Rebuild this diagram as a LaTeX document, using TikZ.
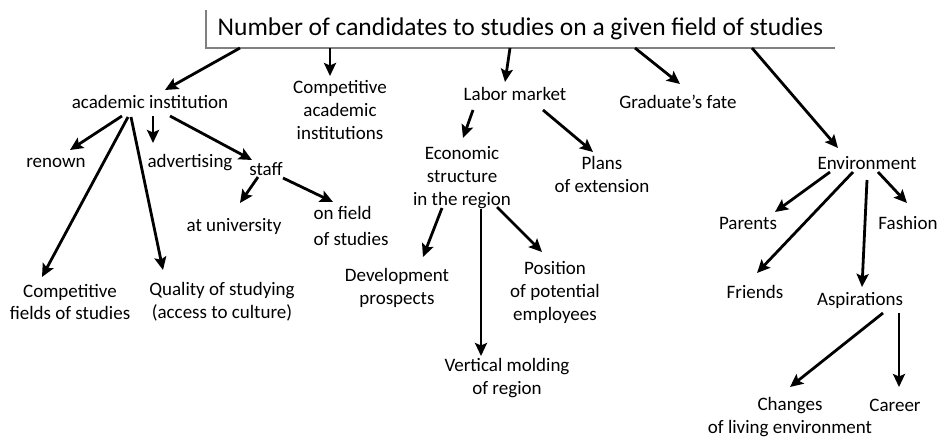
\documentclass[tikz,border=0pt]{standalone}
\usepackage{fontspec}
\setmainfont{Carlito}
\usetikzlibrary{arrows.meta}
\begin{document}
\begin{tikzpicture}[x=1pt,y=-1pt,
  lbl/.style={font=\fontsize{19}{23}\selectfont, align=center, inner sep=1pt},
  ttl/.style={font=\fontsize{25.5}{30}\selectfont, inner sep=0pt, minimum width=629pt, minimum height=38pt},
  arr/.style={line width=2.8pt, -{Stealth[length=13pt,width=12pt,inset=2.5pt]}}]
\useasboundingbox[fill=white] (0,0) rectangle (940,441);
% title
\node[ttl] (title) at (520.5,29) {Number of candidates to studies on a given field of studies};
\draw[gray, line width=1.4pt] (title.north west) |- (title.south east);
% level 1
\node[lbl] (ai) at (150,102) {academic institution};
\node[lbl] (cai) at (340,110) {Competitive\\academic\\institutions};
\node[lbl] (lm) at (515,94) {Labor market};
\node[lbl] (gf) at (678,102) {Graduate's fate};
\node[lbl] (env) at (867,163) {Environment};
% academic institution branch
\node[lbl] (ren) at (56,163) {renown};
\node[lbl] (adv) at (190,163) {advertising};
\node[lbl] (staff) at (266,169) {staff};
\node[lbl] (atu) at (234,226) {at university};
\node[lbl, align=left, font=\fontsize{19}{26}\selectfont] (onf) at (351,226) {on field\\of studies};
\node[lbl] (cfs) at (70,302) {Competitive\\fields of studies};
\node[lbl] (qos) at (222,302) {Quality of studying\\(access to culture)};
% labor market branch
\node[lbl] (eco) at (462,178) {Economic\\structure\\in the region};
\node[lbl] (plans) at (602,174) {Plans\\of extension};
\node[lbl] (dev) at (397,288) {Development\\prospects};
\node[lbl] (pos) at (555,292) {Position\\of potential\\employees};
\node[lbl] (vert) at (507,378) {Vertical molding\\of region};
% environment branch
\node[lbl] (par) at (748,223) {Parents};
\node[lbl] (fash) at (908,223) {Fashion};
\node[lbl] (fri) at (755,292) {Friends};
\node[lbl] (asp) at (860,300) {Aspirations};
\node[lbl] (chg) at (790,417) {Changes\\of living environment};
\node[lbl] (car) at (895,405) {Career};
% connectors
\draw[arr] ([shift={(-280.5,19)}]title.center) -- ([shift={(15,-12)}]ai.center);
\draw[arr] ([shift={(-190.5,19)}]title.center) -- ([shift={(-10,-34)}]cai.center);
\draw[arr] ([shift={(-10.5,19)}]title.center) -- ([shift={(-10,-12)}]lm.center);
\draw[arr] ([shift={(114.5,19)}]title.center) -- ([shift={(2,-18)}]gf.center);
\draw[arr] ([shift={(231.5,19)}]title.center) -- ([shift={(-29,-15)}]env.center);
\draw[arr] ([shift={(-28,14)}]ai.center) -- ([shift={(14,-13)}]ren.center);
\draw[arr] ([shift={(3,14)}]ai.center) -- ([shift={(-37,-20)}]adv.center);
\draw[arr] ([shift={(20,14)}]ai.center) -- ([shift={(-14,-9)}]staff.center);
\draw[arr] ([shift={(-22,15)}]ai.center) -- ([shift={(-28,-25)}]cfs.center);
\draw[arr] ([shift={(-19,15)}]ai.center) -- ([shift={(-59,-32)}]qos.center);
\draw[arr] ([shift={(-8,8)}]staff.center) -- ([shift={(6,-23)}]atu.center);
\draw[arr] ([shift={(17,9)}]staff.center) -- ([shift={(-18,-24)}]onf.center);
\draw[arr] ([shift={(-42,16)}]lm.center) -- ([shift={(1,-40)}]eco.center);
\draw[arr] ([shift={(28,16)}]lm.center) -- ([shift={(-9,-22)}]plans.center);
\draw[arr] ([shift={(-20,30)}]eco.center) -- ([shift={(26,-31)}]dev.center);
\draw[arr] ([shift={(19,31)}]eco.center) -- ([shift={(-26,-22)}]vert.center);
\draw[arr] ([shift={(35,29)}]eco.center) -- ([shift={(-13,-40)}]pos.center);
\draw[arr] ([shift={(-37,9)}]env.center) -- ([shift={(27,-11)}]par.center);
\draw[arr] ([shift={(-14,9)}]env.center) -- ([shift={(2,-19)}]fri.center);
\draw[arr] ([shift={(11,9)}]env.center) -- ([shift={(-1,-20)}]fash.center);
\draw[arr] ([shift={(0,17)}]env.center) -- ([shift={(2,-13)}]asp.center);
\draw[arr] ([shift={(23,13)}]asp.center) -- ([shift={(0,-30)}]chg.center);
\draw[arr] ([shift={(39,13)}]asp.center) -- ([shift={(4,-18)}]car.center);
\end{tikzpicture}
\end{document}
